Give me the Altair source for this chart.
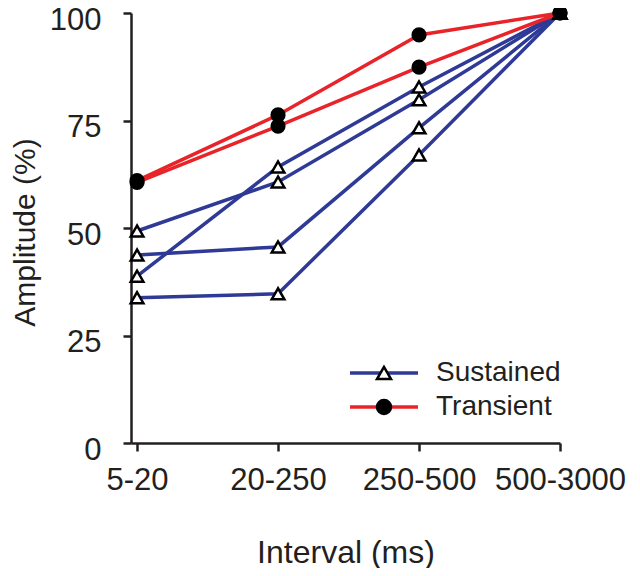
import json
import altair as alt
import pandas as pd

categories = ["5-20", "20-250", "250-500", "500-3000"]
sustained_1 = [49.3, 60.7, 79.8, 100]
sustained_2 = [43.7, 45.6, 73.3, 100]
sustained_3 = [38.8, 64.2, 82.8, 100]
sustained_4 = [33.8, 34.7, 67.0, 100]
transient_1 = [61.0, 76.3, 94.9, 100]
transient_2 = [60.6, 73.7, 87.4, 100]
kinds = ["Sustained", "Transient"]
marker_kinds = ["S", "T"]

BLUE = "#2e3a96"
RED = "#e8242a"
INK = "#231f20"
FONT = "Liberation Sans"

series = [
    ("Sustained", "S", "S1", sustained_1),
    ("Sustained", "S", "S2", sustained_2),
    ("Sustained", "S", "S3", sustained_3),
    ("Sustained", "S", "S4", sustained_4),
    ("Transient", "T", "T1", transient_1),
    ("Transient", "T", "T2", transient_2),
]
rows = []
for kind, mk, lid, vals in series:
    for i, (c, v) in enumerate(zip(categories, vals)):
        rows.append({"kind": kind, "marker": mk, "line": lid, "idx": i, "cat": c, "amp": v})
df = pd.DataFrame(rows)

label_expr = json.dumps(categories) + "[datum.value]"

x_enc = alt.X(
    "idx:Q",
    scale=alt.Scale(domain=[-0.043, 3], nice=False, zero=False),
    axis=alt.Axis(
        values=[0, 1, 2, 3],
        labelExpr=label_expr,
        labelOverlap=False,
        labelFlush=False,
        title="Interval (ms)",
        labelPadding=14,
        titleBaseline="alphabetic",
        titleY=119,
        titleFontSize=32,
    ),
)
y_enc = alt.Y(
    "amp:Q",
    scale=alt.Scale(domain=[0, 100], nice=False),
    axis=alt.Axis(
        values=[0, 25, 50, 75, 100],
        title="Amplitude (%)",
        labelPadding=22,
        labelOffset=7,
        labelOverlap=False,
        labelFlush=False,
        titleBaseline="alphabetic",
        titleAngle=-90,
        titleFontSize=30,
        titleX=-97,
        titleY=219,
    ),
)

line_legend = alt.Legend(
    title=None,
    orient="none",
    legendX=239,
    legendY=346,
    symbolType="M-4.857,0H4.857",
    symbolSize=196,
    symbolStrokeWidth=3.5,
    symbolFillColor="transparent",
    labelFontSize=28,
    labelFont=FONT,
    labelColor=INK,
    labelOffset=38,
    rowPadding=6,
    padding=0,
)
color_enc = alt.Color(
    "kind:N",
    scale=alt.Scale(domain=kinds, range=[BLUE, RED]),
    legend=line_legend,
)

point_legend = alt.Legend(
    title=None,
    orient="none",
    legendX=239,
    legendY=346,
    symbolSize=196,
    symbolStrokeWidth=2.5,
    labelFontSize=28,
    labelFont=FONT,
    labelOpacity=0,
    labelOffset=38,
    rowPadding=6,
    padding=0,
)

base = alt.Chart(df)

blue_lines = base.transform_filter(alt.datum.kind == "Sustained").mark_line(strokeWidth=3.5).encode(
    x=x_enc, y=y_enc, color=color_enc, detail="line:N"
)
red_lines = base.transform_filter(alt.datum.kind == "Transient").mark_line(strokeWidth=3.5).encode(
    x=x_enc, y=y_enc, color=color_enc, detail="line:N"
)
points = base.mark_point(filled=True, strokeWidth=2.5, size=160, opacity=1, clip=False).encode(
    x=x_enc,
    y=y_enc,
    shape=alt.Shape("marker:N", scale=alt.Scale(domain=marker_kinds, range=["triangle-up", "circle"]), legend=point_legend),
    fill=alt.Fill("marker:N", scale=alt.Scale(domain=marker_kinds, range=["white", "black"]), legend=point_legend),
    stroke=alt.Stroke("marker:N", scale=alt.Scale(domain=marker_kinds, range=["black", "black"]), legend=point_legend),
)

chart = (
    alt.layer(blue_lines, red_lines, points)
    .properties(
        width=429,
        height=430,
        autosize=alt.AutoSizeParams(type="none"),
        padding={"left": 123, "top": 5, "right": 72, "bottom": 125},
    )
    .configure_view(stroke=None)
    .configure_axis(
        grid=False,
        domainColor=INK,
        domainWidth=2.5,
        tickColor=INK,
        tickWidth=2.5,
        tickSize=8,
        labelFont=FONT,
        labelFontSize=31,
        labelColor=INK,
        titleFont=FONT,
        titleFontSize=31,
        titleFontWeight="normal",
        titleColor=INK,
    )
    .configure_legend(labelFont=FONT)
)

chart.save("out.html", embed_options={"renderer": "svg", "actions": False})
